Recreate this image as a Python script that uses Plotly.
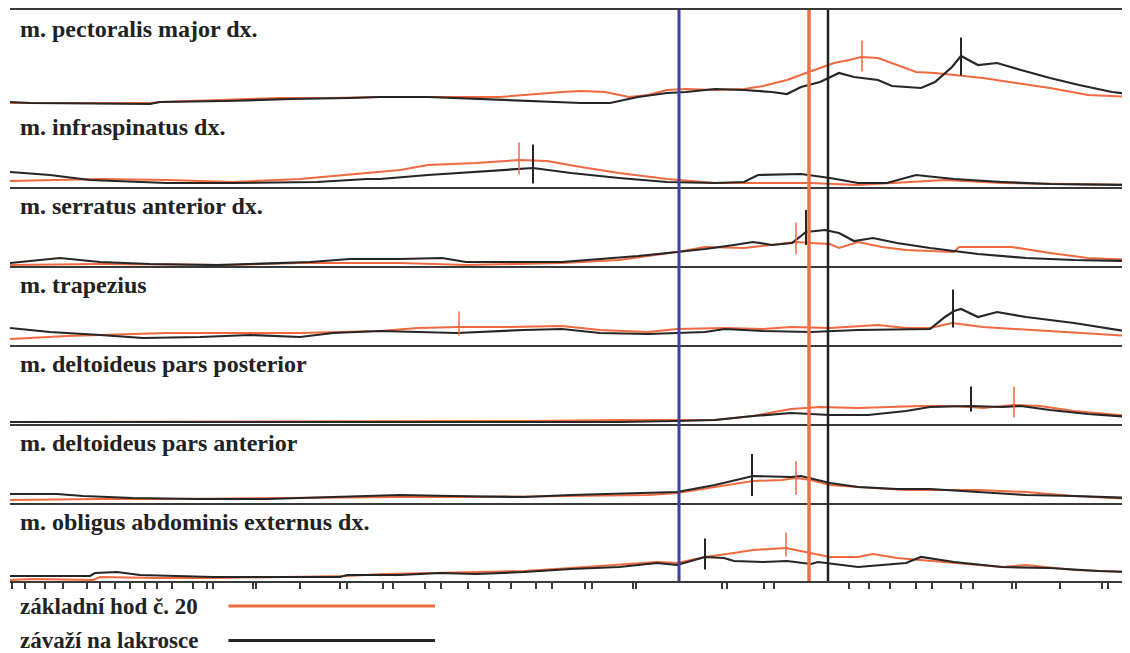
import plotly.graph_objects as go
from plotly.subplots import make_subplots

# ---------------- data (time in ms, amplitude in relative units) ----------------
muscles = [
    "m. pectoralis major dx.",
    "m. infraspinatus dx.",
    "m. serratus anterior dx.",
    "m. trapezius",
    "m. deltoideus pars posterior",
    "m. deltoideus pars anterior",
    "m. obligus abdominis externus dx.",
]
series_names = ["základní hod č. 20", "závaží na lakrosce"]
panel_max = [98, 79, 79, 79, 79, 79, 78]

# základní hod č. 20 (orange)
o1_t = [0, 50, 140, 150, 215, 270, 320, 370, 490, 513, 552, 571, 595, 619, 638, 657, 676, 705, 734, 753, 777, 796, 810, 824, 839, 851, 868, 887, 906, 925, 944, 973, 1006, 1040, 1078, 1120]
o1_v = [5, 5, 5, 6, 8, 10, 10, 11, 11, 13, 16, 17, 16, 11, 13, 18, 19, 18, 19, 22, 28, 35, 40, 45, 48, 51, 50, 43, 36, 35, 33, 30, 25, 20, 13, 11]
o2_t = [0, 40, 90, 157, 223, 290, 323, 357, 370, 390, 418, 466, 509, 537, 571, 609, 657, 705, 753, 801, 848, 887, 935, 992, 1040, 1120]
o2_v = [6, 7, 8, 7, 5, 8, 11, 14, 15, 17, 22, 24, 27, 26, 20, 14, 8, 4, 4, 4, 2, 4, 7, 4, 3, 2]
o3_t = [0, 90, 223, 290, 390, 456, 552, 609, 667, 695, 734, 762, 786, 801, 820, 829, 848, 872, 896, 944, 949, 1002, 1040, 1078, 1120]
o3_v = [1, 2, 1, 3, 3, 1, 3, 6, 14, 19, 18, 21, 24, 23, 22, 18, 24, 19, 16, 14, 19, 19, 13, 8, 6]
o4_t = [0, 57, 157, 223, 290, 370, 408, 449, 494, 552, 590, 638, 667, 715, 753, 781, 820, 868, 896, 920, 942, 973, 1021, 1069, 1120]
o4_v = [6, 9, 12, 12, 12, 14, 17, 18, 18, 19, 15, 13, 16, 17, 16, 18, 17, 20, 17, 17, 22, 18, 15, 12, 9]
o5_t = [0, 432, 518, 609, 667, 705, 743, 781, 810, 848, 911, 944, 973, 1004, 1030, 1064, 1120]
o5_v = [2, 3, 3, 4, 4, 4, 8, 15, 17, 16, 18, 18, 16, 19, 18, 13, 8]
o6_t = [0, 90, 165, 260, 330, 390, 466, 561, 638, 667, 705, 743, 772, 786, 801, 820, 848, 896, 968, 1016, 1064, 1120]
o6_v = [3, 4, 4, 5, 6, 6, 6, 7, 8, 10, 16, 22, 23, 25, 23, 18, 16, 13, 13, 11, 7, 4]
o7_t = [0, 23, 83, 90, 147, 203, 337, 373, 423, 466, 514, 561, 609, 647, 667, 695, 724, 743, 776, 801, 820, 848, 863, 887, 911, 944, 992, 1016, 1064, 1120]
o7_v = [1, 2, 1, 4, 3, 3, 5, 7, 8, 9, 10, 13, 16, 19, 18, 24, 28, 31, 33, 28, 24, 24, 27, 23, 21, 18, 14, 16, 11, 9]

# závaží na lakrosce (black)
b1_t = [0, 20, 140, 150, 215, 280, 340, 370, 418, 466, 513, 571, 600, 628, 657, 676, 705, 734, 762, 777, 791, 810, 829, 844, 868, 882, 911, 925, 942, 951, 968, 987, 1011, 1040, 1069, 1102, 1120]
b1_v = [6, 5, 4, 6, 7, 9, 10, 11, 11, 9, 7, 5, 5, 11, 15, 16, 19, 18, 16, 14, 21, 26, 35, 31, 28, 22, 20, 26, 41, 52, 43, 45, 38, 30, 23, 16, 14]
b2_t = [0, 40, 80, 123, 157, 223, 307, 357, 370, 418, 466, 513, 523, 561, 609, 657, 705, 734, 748, 791, 820, 848, 877, 906, 925, 944, 992, 1040, 1120]
b2_v = [15, 12, 7, 5, 4, 4, 5, 8, 8, 12, 15, 18, 19, 14, 9, 5, 4, 5, 12, 13, 9, 4, 4, 12, 10, 8, 5, 3, 2]
b3_t = [0, 23, 50, 90, 140, 207, 257, 300, 340, 390, 432, 456, 504, 552, 590, 628, 667, 695, 724, 743, 762, 782, 796, 815, 829, 844, 863, 887, 920, 968, 1016, 1064, 1120]
b3_v = [3, 5, 8, 4, 2, 1, 3, 4, 7, 7, 8, 4, 4, 4, 7, 10, 14, 17, 21, 24, 21, 23, 34, 36, 33, 25, 28, 23, 18, 12, 8, 6, 5]
b4_t = [0, 40, 90, 133, 190, 240, 290, 323, 370, 447, 514, 552, 590, 638, 695, 715, 753, 801, 848, 896, 920, 935, 944, 951, 968, 987, 1016, 1064, 1120]
b4_v = [17, 13, 10, 7, 8, 10, 8, 12, 14, 12, 15, 16, 12, 11, 13, 16, 14, 13, 15, 16, 16, 28, 34, 36, 28, 33, 28, 22, 13]
b5_t = [0, 609, 667, 705, 743, 781, 801, 820, 858, 896, 920, 961, 992, 1011, 1040, 1078, 1120]
b5_v = [2, 2, 3, 4, 8, 11, 10, 9, 9, 13, 17, 18, 17, 18, 14, 10, 7]
b6_t = [0, 47, 73, 123, 190, 257, 323, 390, 442, 514, 561, 638, 667, 705, 743, 781, 791, 820, 848, 887, 920, 968, 1016, 1064, 1120]
b6_v = [9, 9, 7, 5, 4, 4, 6, 8, 7, 6, 8, 10, 11, 18, 27, 26, 27, 20, 16, 14, 14, 11, 8, 7, 5]
b7_t = [0, 80, 85, 107, 130, 203, 330, 337, 390, 430, 466, 514, 561, 609, 647, 667, 695, 714, 724, 753, 777, 801, 808, 829, 848, 896, 911, 944, 992, 1040, 1088, 1120]
b7_v = [5, 5, 8, 9, 6, 4, 4, 6, 6, 8, 7, 9, 12, 14, 18, 16, 24, 23, 20, 19, 20, 17, 19, 16, 14, 18, 24, 19, 14, 13, 10, 9]

# peak markers (time, amplitude at marker centre, marker length)
orange_peak_t = [852, 509, 786, 449, 1004, 786, 776]
orange_peak_v = [52, 28.5, 27.5, 21.5, 22, 25, 36.5]
orange_peak_len = [22, 23, 23, 17, 22, 24, 17]
black_peak_t = [951, 523, 796, 943, 961, 742, 695]
black_peak_v = [51.5, 23, 38.5, 36.5, 25, 28, 27]
black_peak_len = [27, 28, 25, 27, 18, 30, 22]

# event lines (ms)
event_times = [669, 799, 818]
event_colors = ["#3b41a6", "#f0704a", "#222222"]
event_widths = [3, 3.5, 2.5]

# time-axis tick marks (ms)
tick_times = [2, 15, 35, 53, 77, 90, 105, 120, 135, 147, 162, 183, 197, 203, 243, 246, 290, 330, 337,
              373, 383, 415, 431, 458, 479, 501, 526, 542, 575, 582, 623, 626, 712, 717, 754, 764,
              839, 859, 880, 906, 922, 951, 963, 1002, 1006, 1050, 1092, 1098]

orange_t = [o1_t, o2_t, o3_t, o4_t, o5_t, o6_t, o7_t]
orange_v = [o1_v, o2_v, o3_v, o4_v, o5_v, o6_v, o7_v]
black_t = [b1_t, b2_t, b3_t, b4_t, b5_t, b6_t, b7_t]
black_v = [b1_v, b2_v, b3_v, b4_v, b5_v, b6_v, b7_v]

ORANGE = "#f0693f"
BLACK = "#262626"
AXC = "#3a3a3a"
FONT = "Liberation Serif"
FSIZE = 24

n = len(muscles)
fig = make_subplots(rows=n, cols=1, shared_xaxes=True, vertical_spacing=0,
                    row_heights=panel_max)

for i in range(n):
    r = i + 1
    fig.add_trace(go.Scatter(x=orange_t[i], y=orange_v[i], mode="lines",
                             line=dict(color=ORANGE, width=2), name=series_names[0],
                             showlegend=False), row=r, col=1)
    fig.add_trace(go.Scatter(x=black_t[i], y=black_v[i], mode="lines",
                             line=dict(color=BLACK, width=2.2), name=series_names[1],
                             showlegend=False), row=r, col=1)
    fig.add_trace(go.Scatter(x=[orange_peak_t[i]], y=[orange_peak_v[i]], mode="markers",
                             marker=dict(symbol="line-ns", size=orange_peak_len[i],
                                         line=dict(color=ORANGE, width=1.5)),
                             showlegend=False, hoverinfo="skip"), row=r, col=1)
    fig.add_trace(go.Scatter(x=[black_peak_t[i]], y=[black_peak_v[i]], mode="markers",
                             marker=dict(symbol="line-ns", size=black_peak_len[i],
                                         line=dict(color=BLACK, width=2)),
                             showlegend=False, hoverinfo="skip"), row=r, col=1)
    fig.update_yaxes(range=[0, panel_max[i]], visible=False, row=r, col=1)
    last = (r == n)
    fig.update_xaxes(range=[0, 1120], showgrid=False, zeroline=False,
                     showline=True, linecolor=AXC, linewidth=1.5,
                     mirror=(r == 1),
                     showticklabels=False,
                     ticks="outside" if last else "",
                     tickvals=tick_times if last else None,
                     ticklen=6, tickwidth=1.5, tickcolor=AXC,
                     row=r, col=1)
    yref = "y domain" if r == 1 else f"y{r} domain"
    fig.add_annotation(text=muscles[i], xref="paper", yref=yref, x=0.007, y=1,
                       xanchor="left", yanchor="top", yshift=-4, showarrow=False,
                       font=dict(family=FONT, size=FSIZE, color="#222222", weight="bold"))

# event lines spanning all panels
for t, c, w in zip(event_times, event_colors, event_widths):
    fig.add_shape(type="line", xref="x", yref="paper", x0=t, x1=t, y0=0, y1=1,
                  line=dict(color=c, width=w), layer="above")

# hand-made legend below the plot
leg_colors = [ORANGE, BLACK]
leg_y = [-0.044, -0.104]
for name, c, y in zip(series_names, leg_colors, leg_y):
    fig.add_annotation(text=name, xref="paper", yref="paper", x=0.007, y=y,
                       xanchor="left", yanchor="middle", showarrow=False,
                       font=dict(family=FONT, size=23, color="#222222", weight="bold"))
    fig.add_shape(type="line", xref="paper", yref="paper", x0=0.195, x1=0.3795,
                  y0=y, y1=y, line=dict(color=c, width=3))

# page body has an 8px default margin, so the figure is sized to fit the window
fig.update_layout(width=1122, height=645, margin=dict(l=2, r=0, t=2, b=72),
                  paper_bgcolor="white", plot_bgcolor="white", showlegend=False)

fig.write_html("out.html")
